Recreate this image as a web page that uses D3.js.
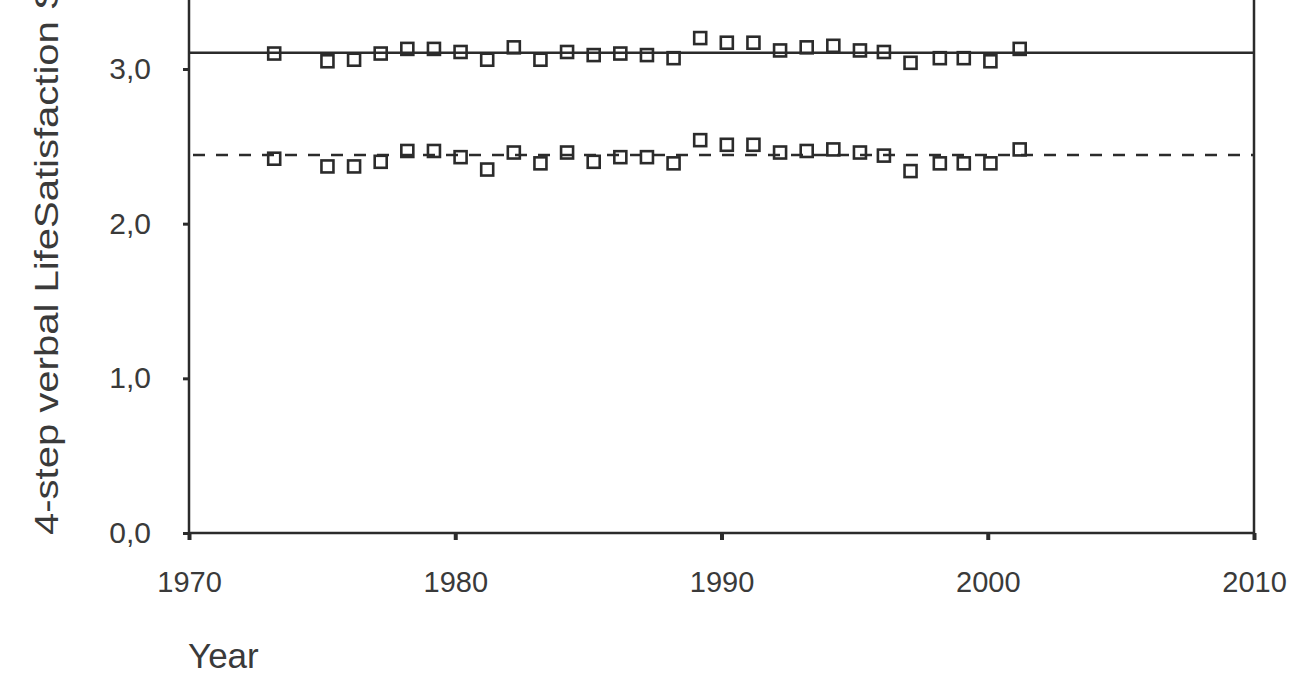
<!DOCTYPE html>
<html>
<head>
<meta charset="utf-8">
<script src="https://cdn.jsdelivr.net/npm/d3@7"></script>
<style>
  html, body { margin: 0; padding: 0; background: #fff; }
  svg { display: block; overflow: hidden; }
  text { font-family: "Liberation Sans", Arial, sans-serif; fill: #3a3a3a; }
</style>
</head>
<body>
<div id="chart"></div>
<script>
// survey years (points sit a little after the year mark in the original)
const years = [1973.2, 1975.2, 1976.2, 1977.2, 1978.2, 1979.2, 1980.2, 1981.2, 1982.2, 1983.2,
    1984.2, 1985.2, 1986.2, 1987.2, 1988.2, 1989.2, 1990.2, 1991.2, 1992.2, 1993.2,
    1994.2, 1995.2, 1996.1, 1997.1, 1998.2, 1999.1, 2000.1, 2001.2];

// upper series (solid mean line)
const upper = [3.10, 3.05, 3.06, 3.10, 3.13, 3.13, 3.11, 3.06, 3.14, 3.06,
    3.11, 3.09, 3.10, 3.09, 3.07, 3.20, 3.17, 3.17, 3.12, 3.14,
    3.15, 3.12, 3.11, 3.04, 3.07, 3.07, 3.05, 3.13];
const upperMean = 3.105;

// lower series (dashed mean line)
const lower = [2.42, 2.37, 2.37, 2.40, 2.47, 2.47, 2.43, 2.35, 2.46, 2.39,
    2.46, 2.40, 2.43, 2.43, 2.39, 2.54, 2.51, 2.51, 2.46, 2.47,
    2.48, 2.46, 2.44, 2.34, 2.39, 2.39, 2.39, 2.48];
const lowerMean = 2.444;

const xTicks = [1970, 1980, 1990, 2000, 2010];
const yTicks = [0, 1, 2, 3];
const yTickLabels = ["0,0", "1,0", "2,0", "3,0"];
const yTitle = "4-step verbal LifeSatisfaction Scale";
const xTitle = "Year";

const width = 1301;
const height = 677;
const ink = "#2b2b2b";

const x = d3.scaleLinear().domain([1970, 2010]).range([189, 1254]);
const y = d3.scaleLinear().domain([0, 3]).range([533, 69]);
const yTop = 3.6; // frame runs off the top of the page

const svg = d3.select('#chart').append('svg')
    .attr('width', width)
    .attr('height', height);

// frame: left, bottom, right
svg.append('path')
    .attr('d', d3.line()([
        [x(1970), y(yTop)], [x(1970), y(0)], [x(2010), y(0)], [x(2010), y(yTop)]
    ]))
    .attr('fill', 'none')
    .attr('stroke', ink)
    .attr('stroke-width', 2.5);

// x axis ticks + labels
const xAxis = svg.append('g')
    .attr('transform', `translate(0,${y(0)})`)
    .call(d3.axisBottom(x).tickValues(xTicks).tickFormat(d3.format('d'))
        .tickSize(7).tickSizeOuter(0).tickPadding(31));
xAxis.select('.domain').remove();
xAxis.selectAll('.tick line').attr('stroke', ink).attr('stroke-width', 4);
xAxis.selectAll('.tick text')
    .style('font-size', '29px')
    .attr('fill', '#3a3a3a');

// y axis ticks + labels
const yAxis = svg.append('g')
    .attr('transform', `translate(${x(1970)},0)`)
    .call(d3.axisLeft(y).tickValues(yTicks).tickFormat((d, i) => yTickLabels[i])
        .tickSize(6).tickSizeOuter(0).tickPadding(32));
yAxis.select('.domain').remove();
yAxis.selectAll('.tick line').attr('stroke', ink).attr('stroke-width', 3);
yAxis.selectAll('.tick text')
    .style('font-size', '30px')
    .attr('fill', '#3a3a3a');

// mean lines
svg.append('line')
    .attr('x1', x(1970)).attr('x2', x(2010))
    .attr('y1', y(upperMean)).attr('y2', y(upperMean))
    .attr('stroke', ink)
    .attr('stroke-width', 2.6);

svg.append('line')
    .attr('x1', x(1970) + 4).attr('x2', x(2010))
    .attr('y1', y(lowerMean)).attr('y2', y(lowerMean))
    .attr('stroke', ink)
    .attr('stroke-width', 2.6)
    .attr('stroke-dasharray', '12,11');

// square markers
const sq = 12;
function drawSquares(values, cls) {
    svg.selectAll('rect.' + cls)
        .data(values)
        .enter()
        .append('rect')
        .attr('class', cls)
        .attr('x', (d, i) => x(years[i]) - sq / 2)
        .attr('y', d => y(d) - sq / 2)
        .attr('width', sq)
        .attr('height', sq)
        .attr('fill', 'none')
        .attr('stroke', ink)
        .attr('stroke-width', 2.6);
}
drawSquares(upper, 'up');
drawSquares(lower, 'low');

// titles
svg.append('text')
    .attr('transform', `translate(58,${y(0) + 2}) rotate(-90)`)
    .attr('text-anchor', 'start')
    .attr('textLength', 625)
    .attr('lengthAdjust', 'spacingAndGlyphs')
    .style('font-size', '33px')
    .text(yTitle);

svg.append('text')
    .attr('x', 188)
    .attr('y', 668)
    .style('font-size', '35px')
    .text(xTitle);
</script>
</body>
</html>
